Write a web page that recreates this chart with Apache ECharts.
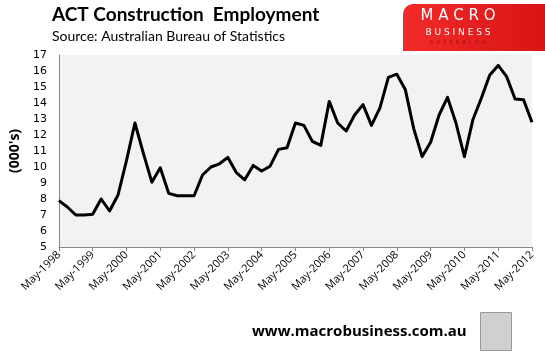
<!DOCTYPE html>
<html>
<head>
<meta charset="utf-8">
<script src="https://cdn.jsdelivr.net/npm/echarts@6/dist/echarts.min.js"></script>
<style>
  html, body { margin: 0; padding: 0; background: #fff; }
  #chart { width: 545px; height: 354px; }
</style>
</head>
<body>
<div id="chart"></div>
<script>
// quarterly, May-1998 .. May-2012
const months = ['May', 'Aug', 'Nov', 'Feb']
const categories = []
for (let i = 0; i < 57; i++) {
    const q = i % 4
    const y = 1998 + Math.floor(i / 4) + (q === 3 ? 1 : 0)
    categories.push(months[q] + '-' + y)
}

const employment = [
    7.9, 7.5, 7.0, 7.0, 7.05, 8.0, 7.25, 8.25, 10.4, 12.75,
    10.85, 9.05, 9.95, 8.35, 8.2, 8.2, 8.2, 9.5, 10.0, 10.2,
    10.6, 9.65, 9.2, 10.1, 9.75, 10.05, 11.1, 11.2, 12.75, 12.6,
    11.6, 11.35, 14.1, 12.75, 12.25, 13.25, 13.9, 12.6, 13.7, 15.6,
    15.8, 14.85, 12.4, 10.65, 11.55, 13.25, 14.35, 12.75, 10.65, 12.95,
    14.3, 15.75, 16.35, 15.65, 14.25, 14.2, 12.8
]

const chart = echarts.init(document.getElementById('chart'))
chart.setOption({
    animation: false,
    backgroundColor: '#fff',
    textStyle: { fontFamily: 'Lato' },
    grid: {
        left: 57,
        right: 13,
        top: 55,
        bottom: 107,
        show: true,
        backgroundColor: '#f2f2f2',
        borderWidth: 0
    },
    graphic: [
        {
            type: 'text', left: 52, top: 5,
            style: { text: 'ACT Construction  Employment', font: 'bold 19px Lato', fill: '#000' }
        },
        {
            type: 'text', left: 52, top: 29,
            style: { text: 'Source: Australian Bureau of Statistics', font: '14px Lato', fill: '#000' }
        },
        {
            type: 'rect', left: 403, top: 4,
            shape: { width: 142, height: 47, r: [10, 0, 0, 0] },
            style: {
                fill: new echarts.graphic.LinearGradient(0, 0, 1, 0, [
                    { offset: 0, color: '#f22a2a' },
                    { offset: 1, color: '#d81414' }
                ])
            }
        },
        {
            type: 'text', x: 458, y: 9,
            style: { text: 'M A C R O', font: '15px "DejaVu Sans"', fill: '#fff', align: 'center' }
        },
        {
            type: 'text', x: 458, y: 28,
            style: { text: 'B U S I N E S S', font: '9px "DejaVu Sans"', fill: '#fff', align: 'center' }
        },
        {
            type: 'text', x: 458, y: 40,
            style: { text: 'S  U  P  E  R  B  L  O  G', font: '5px "DejaVu Sans"', fill: '#a01010', align: 'center' }
        },
        {
            type: 'text', left: 252, top: 324,
            style: { text: 'www.macrobusiness.com.au', font: 'bold 15px "Open Sans"', fill: '#000' }
        },
        {
            type: 'rect', left: 480, top: 312,
            shape: { width: 31, height: 38 },
            style: { fill: '#d0d0d0', stroke: '#999', lineWidth: 1 }
        }
    ],
    xAxis: {
        type: 'category',
        data: categories,
        boundaryGap: false,
        axisLine: { lineStyle: { color: '#888', width: 1 } },
        axisTick: { interval: 3, length: 4, lineStyle: { color: '#888' } },
        axisLabel: {
            interval: 3,
            rotate: 45,
            fontSize: 11,
            fontFamily: 'Open Sans',
            color: '#000',
            margin: 6
        },
        splitLine: { show: false }
    },
    yAxis: {
        type: 'value',
        min: 5,
        max: 17,
        interval: 1,
        name: "(000's)",
        nameLocation: 'middle',
        nameRotate: 90,
        nameGap: 30,
        nameTextStyle: { fontSize: 14, fontWeight: 'bold', fontFamily: 'Open Sans', color: '#000' },
        axisLine: { show: true, lineStyle: { color: '#888', width: 1 } },
        axisTick: { show: false },
        axisLabel: { fontSize: 11, fontFamily: 'DejaVu Sans', color: '#000', margin: 12 },
        splitLine: { show: false }
    },
    series: [
        {
            name: 'ACT Construction Employment',
            type: 'line',
            data: employment,
            symbol: 'none',
            lineStyle: { color: '#000', width: 3, join: 'round' }
        }
    ]
})
</script>
</body>
</html>
